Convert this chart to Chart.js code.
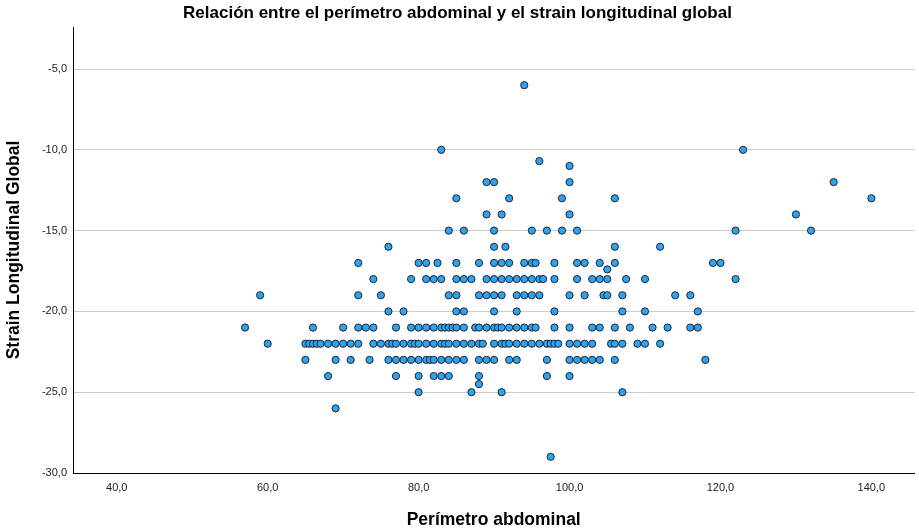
<!DOCTYPE html>
<html>
<head>
<meta charset="utf-8">
<script src="https://cdn.jsdelivr.net/npm/chart.js@4/dist/chart.umd.min.js"></script>
<style>
  html, body { margin: 0; padding: 0; background: #ffffff; }
  #wrap { width: 919px; height: 532px; position: relative; }
</style>
</head>
<body>
<div id="wrap"><canvas id="c"></canvas></div>
<script>
// ---- Data ----
const chartTitle = "Relación entre el perímetro abdominal y el strain longitudinal global";
const xAxisTitle = "Perímetro abdominal";
const yAxisTitle = "Strain Longitudinal Global";

const xTickValues = [40, 60, 80, 100, 120, 140];
const yTickValues = [-30, -25, -20, -15, -10, -5];

// Strain levels (y) and the perimeters (x) of the cases observed at each level
const strainLevels = [-6, -10, -10.7, -11, -12, -13, -14, -15, -16, -17, -17.4, -18, -19, -20, -21, -22, -23, -24, -24.5, -25, -26, -29];
const perimeterByLevel = [
  [94],
  [83, 123],
  [96],
  [100],
  [89, 90, 100, 135],
  [85, 92, 99, 106, 140],
  [89, 91, 100, 130],
  [84, 86, 90, 95, 97, 99, 101, 122, 132],
  [76, 90, 91.5, 106, 112],
  [72, 80, 81, 82.5, 85, 88, 90, 91, 92, 94, 95, 95.5, 98, 101, 102, 104, 106, 119, 120],
  [105],
  [74, 79, 81, 82, 83, 85, 86, 87, 89, 90, 91, 92, 93, 94, 95, 96, 96.5, 98, 101, 103, 104, 105, 107.5, 110, 122],
  [59, 72, 75, 84, 85, 88, 89, 90, 91, 93, 94, 95, 96, 100, 102, 104.5, 105, 107, 114, 116],
  [76, 78, 85, 86, 90, 93, 98, 107, 110, 117],
  [57, 66, 70, 72, 73, 74, 77, 79, 80, 81, 82, 83, 83.5, 84, 84.5, 85, 86, 87.5, 88, 89, 90, 90.5, 91, 92, 93, 94, 95, 95.5, 98, 100, 103, 104, 106, 108, 111, 113, 116, 117],
  [60, 65, 65.5, 66, 66.5, 67, 68, 69, 70, 71, 72, 74, 75, 76, 76.5, 77, 78, 79, 79.5, 80, 81, 82, 83, 83.5, 84, 85, 86, 87, 88, 88.5, 90, 91, 91.5, 92, 93, 94, 95, 96, 97, 97.5, 98, 98.5, 100, 101, 102, 103, 105.5, 106, 107, 109, 110, 112],
  [65, 69, 71, 73.5, 76, 77, 78, 79, 80, 81, 81.5, 82, 83, 84, 85, 86, 88, 89, 90, 92, 93, 97, 100, 101, 102, 103, 104, 106, 118],
  [68, 77, 80, 82, 83, 84, 88, 97, 100],
  [88],
  [80, 87, 91, 107],
  [69],
  [97.5]
];

// ---- Build points from the arrays ----
const points = [];
strainLevels.forEach((y, i) => {
  perimeterByLevel[i].forEach(x => points.push({ x: x, y: y }));
});

const fmt = v => Number(v).toFixed(1).replace('.', ',');
const FONT = "'Liberation Sans', Arial, sans-serif";

new Chart(document.getElementById('c'), {
  type: 'scatter',
  data: {
    datasets: [{
      data: points,
      pointRadius: 3.6,
      pointHoverRadius: 3.6,
      pointBackgroundColor: '#2ea3f2',
      pointBorderColor: '#1b2530',
      pointBorderWidth: 1
    }]
  },
  options: {
    responsive: true,
    maintainAspectRatio: false,
    animation: false,
    events: [],
    layout: { padding: { left: 0, right: 4, top: 0, bottom: 0 } },
    plugins: {
      legend: { display: false },
      tooltip: { enabled: false },
      title: {
        display: true,
        text: chartTitle,
        color: '#000000',
        font: { family: FONT, size: 17, weight: 'bold' },
        padding: { top: 3, bottom: 3.6 }
      }
    },
    scales: {
      x: {
        type: 'linear',
        min: 34.2,
        max: 145.7,
        afterBuildTicks: s => { s.ticks = xTickValues.map(v => ({ value: v })); },
        afterFit: s => { s.height = 59; },
        grid: { display: false, drawTicks: false },
        border: { display: true, color: '#000000', width: 1 },
        ticks: {
          callback: v => fmt(v),
          color: '#222222',
          font: { family: FONT, size: 11 },
          padding: 8,
          maxRotation: 0,
          autoSkip: false
        },
        title: {
          display: true,
          text: xAxisTitle,
          color: '#000000',
          font: { family: FONT, size: 17.5, weight: 'bold' },
          padding: { top: 0, bottom: 1 }
        }
      },
      y: {
        type: 'linear',
        min: -30,
        max: -2.4,
        afterBuildTicks: s => { s.ticks = yTickValues.map(v => ({ value: v })); },
        afterFit: s => { s.width = 73; },
        grid: { display: true, color: '#cccccc', lineWidth: 1, drawTicks: false },
        border: { display: true, color: '#000000', width: 1 },
        ticks: {
          callback: v => fmt(v),
          color: '#222222',
          font: { family: FONT, size: 11 },
          padding: 6,
          autoSkip: false
        },
        title: {
          display: true,
          text: yAxisTitle,
          color: '#000000',
          font: { family: FONT, size: 17.5, weight: 'bold' },
          padding: { top: 4, bottom: 0 }
        }
      }
    }
  }
});
</script>
</body>
</html>
